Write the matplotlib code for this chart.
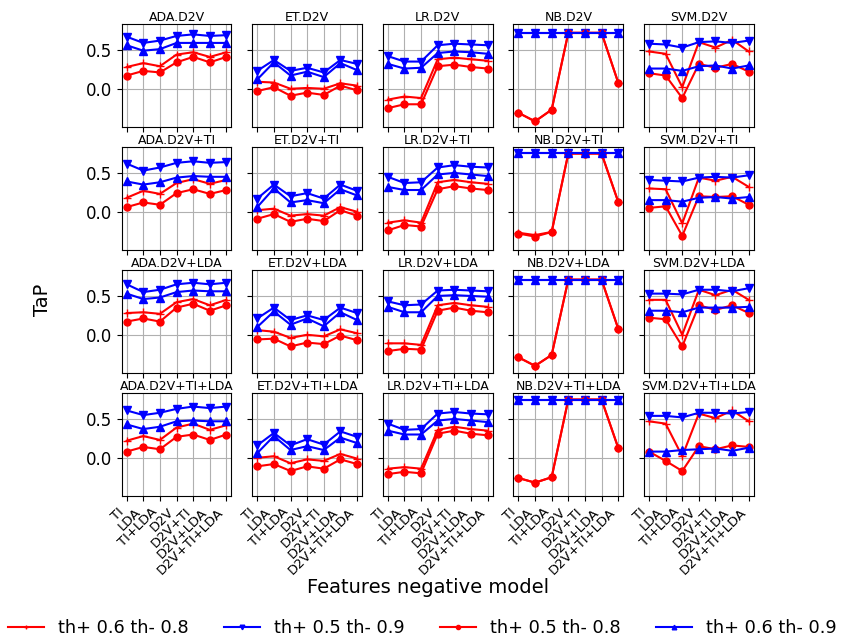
import matplotlib
matplotlib.use('Agg')
import matplotlib.pyplot as plt

# x axis: features of the negative model
features = ['TI', 'LDA', 'TI+LDA', 'D2V', 'D2V+TI', 'D2V+LDA', 'D2V+TI+LDA']
classifiers = ['ADA', 'ET', 'LR', 'NB', 'SVM']
feature_sets = ['D2V', 'D2V+TI', 'D2V+LDA', 'D2V+TI+LDA']

series_labels = ['th+ 0.6 th- 0.8', 'th+ 0.5 th- 0.9', 'th+ 0.5 th- 0.8', 'th+ 0.6 th- 0.9']
series_colors = ['red', 'blue', 'red', 'blue']
series_markers = ['+', 'v', 'o', '^']
series_msize = [6, 5.5, 5, 5.5]

# TaP per subplot, one row per series in the order of series_labels
ada_d2v = [[0.28, 0.33, 0.29, 0.44, 0.47, 0.41, 0.47],
           [0.67, 0.59, 0.62, 0.68, 0.70, 0.68, 0.69],
           [0.17, 0.23, 0.21, 0.34, 0.41, 0.34, 0.41],
           [0.56, 0.49, 0.51, 0.59, 0.59, 0.59, 0.59]]
et_d2v = [[0.09, 0.08, 0.00, 0.01, 0.00, 0.07, 0.04],
          [0.23, 0.37, 0.23, 0.27, 0.21, 0.37, 0.32],
          [-0.03, 0.02, -0.09, -0.05, -0.08, 0.04, -0.02],
          [0.12, 0.34, 0.17, 0.22, 0.15, 0.33, 0.24]]
lr_d2v = [[-0.14, -0.10, -0.12, 0.38, 0.40, 0.38, 0.36],
          [0.42, 0.35, 0.35, 0.56, 0.58, 0.57, 0.56],
          [-0.25, -0.20, -0.20, 0.29, 0.31, 0.28, 0.26],
          [0.32, 0.26, 0.27, 0.46, 0.48, 0.47, 0.45]]
nb_d2v = [[-0.31, -0.42, -0.27, 0.72, 0.72, 0.72, 0.08],
          [0.72, 0.72, 0.72, 0.72, 0.72, 0.72, 0.72],
          [-0.31, -0.42, -0.27, 0.72, 0.72, 0.72, 0.08],
          [0.72, 0.72, 0.72, 0.72, 0.72, 0.72, 0.72]]
svm_d2v = [[0.48, 0.45, 0.02, 0.60, 0.53, 0.63, 0.48],
           [0.58, 0.57, 0.53, 0.60, 0.61, 0.59, 0.62],
           [0.20, 0.17, -0.12, 0.32, 0.27, 0.32, 0.22],
           [0.26, 0.26, 0.23, 0.29, 0.30, 0.26, 0.30]]

ada_d2v_ti = [[0.18, 0.27, 0.23, 0.37, 0.42, 0.36, 0.41],
              [0.62, 0.53, 0.57, 0.63, 0.65, 0.63, 0.64],
              [0.06, 0.12, 0.09, 0.24, 0.29, 0.23, 0.28],
              [0.39, 0.35, 0.38, 0.44, 0.46, 0.45, 0.45]]
et_d2v_ti = [[0.02, 0.04, -0.05, -0.03, -0.05, 0.06, 0.00],
             [0.17, 0.35, 0.20, 0.24, 0.17, 0.35, 0.27],
             [-0.09, -0.03, -0.13, -0.09, -0.12, 0.02, -0.05],
             [0.06, 0.30, 0.12, 0.15, 0.11, 0.29, 0.21]]
lr_d2v_ti = [[-0.14, -0.11, -0.14, 0.38, 0.41, 0.38, 0.36],
             [0.45, 0.37, 0.38, 0.57, 0.60, 0.58, 0.57],
             [-0.24, -0.17, -0.19, 0.29, 0.33, 0.30, 0.28],
             [0.32, 0.28, 0.28, 0.48, 0.50, 0.48, 0.46]]
nb_d2v_ti = [[-0.27, -0.30, -0.26, 0.75, 0.75, 0.75, 0.13],
             [0.76, 0.76, 0.76, 0.76, 0.76, 0.76, 0.76],
             [-0.28, -0.32, -0.26, 0.75, 0.75, 0.75, 0.13],
             [0.76, 0.76, 0.76, 0.76, 0.76, 0.76, 0.76]]
svm_d2v_ti = [[0.30, 0.29, -0.15, 0.44, 0.40, 0.45, 0.32],
              [0.41, 0.40, 0.39, 0.44, 0.45, 0.44, 0.47],
              [0.05, 0.07, -0.31, 0.20, 0.19, 0.20, 0.09],
              [0.15, 0.15, 0.13, 0.18, 0.19, 0.17, 0.19]]

ada_d2v_lda = [[0.28, 0.29, 0.27, 0.42, 0.46, 0.38, 0.45],
               [0.65, 0.55, 0.58, 0.65, 0.67, 0.65, 0.67],
               [0.17, 0.21, 0.17, 0.35, 0.40, 0.31, 0.38],
               [0.53, 0.46, 0.48, 0.55, 0.57, 0.56, 0.56]]
et_d2v_lda = [[0.06, 0.04, -0.04, 0.00, -0.02, 0.07, 0.02],
              [0.21, 0.35, 0.19, 0.25, 0.19, 0.35, 0.28],
              [-0.06, -0.05, -0.15, -0.10, -0.12, -0.01, -0.07],
              [0.10, 0.30, 0.13, 0.21, 0.11, 0.29, 0.19]]
lr_d2v_lda = [[-0.11, -0.11, -0.13, 0.38, 0.41, 0.38, 0.36],
              [0.43, 0.38, 0.39, 0.57, 0.58, 0.57, 0.56],
              [-0.21, -0.18, -0.19, 0.31, 0.35, 0.31, 0.29],
              [0.36, 0.29, 0.29, 0.50, 0.51, 0.50, 0.49]]
nb_d2v_lda = [[-0.29, -0.40, -0.26, 0.71, 0.71, 0.71, 0.08],
              [0.71, 0.71, 0.71, 0.71, 0.71, 0.71, 0.71],
              [-0.29, -0.40, -0.26, 0.71, 0.71, 0.71, 0.08],
              [0.71, 0.71, 0.71, 0.71, 0.71, 0.71, 0.71]]
svm_d2v_lda = [[0.45, 0.45, 0.00, 0.58, 0.51, 0.58, 0.45],
               [0.53, 0.53, 0.52, 0.58, 0.58, 0.56, 0.60],
               [0.22, 0.20, -0.15, 0.38, 0.32, 0.38, 0.28],
               [0.31, 0.31, 0.29, 0.35, 0.35, 0.35, 0.36]]

ada_d2v_ti_lda = [[0.22, 0.28, 0.23, 0.39, 0.44, 0.36, 0.42],
                  [0.61, 0.55, 0.58, 0.63, 0.66, 0.64, 0.66],
                  [0.08, 0.14, 0.11, 0.27, 0.30, 0.23, 0.30],
                  [0.43, 0.37, 0.40, 0.47, 0.48, 0.47, 0.47]]
et_d2v_ti_lda = [[0.00, 0.02, -0.07, -0.02, -0.04, 0.05, -0.01],
                 [0.16, 0.32, 0.16, 0.24, 0.17, 0.34, 0.27],
                 [-0.11, -0.08, -0.17, -0.11, -0.14, -0.02, -0.08],
                 [0.06, 0.28, 0.10, 0.15, 0.10, 0.26, 0.19]]
lr_d2v_ti_lda = [[-0.14, -0.12, -0.14, 0.36, 0.40, 0.37, 0.35],
                 [0.44, 0.36, 0.37, 0.57, 0.59, 0.57, 0.56],
                 [-0.21, -0.18, -0.20, 0.31, 0.35, 0.31, 0.29],
                 [0.35, 0.30, 0.30, 0.48, 0.50, 0.48, 0.46]]
nb_d2v_ti_lda = [[-0.26, -0.32, -0.25, 0.75, 0.75, 0.75, 0.13],
                 [0.75, 0.75, 0.75, 0.75, 0.75, 0.75, 0.75],
                 [-0.26, -0.32, -0.25, 0.75, 0.75, 0.75, 0.13],
                 [0.75, 0.75, 0.75, 0.75, 0.75, 0.75, 0.75]]
svm_d2v_ti_lda = [[0.47, 0.44, 0.02, 0.57, 0.51, 0.61, 0.47],
                  [0.54, 0.54, 0.52, 0.58, 0.58, 0.57, 0.59],
                  [0.08, -0.04, -0.17, 0.15, 0.11, 0.16, 0.14],
                  [0.08, 0.08, 0.10, 0.11, 0.12, 0.09, 0.13]]

grid_data = [[ada_d2v, et_d2v, lr_d2v, nb_d2v, svm_d2v],
             [ada_d2v_ti, et_d2v_ti, lr_d2v_ti, nb_d2v_ti, svm_d2v_ti],
             [ada_d2v_lda, et_d2v_lda, lr_d2v_lda, nb_d2v_lda, svm_d2v_lda],
             [ada_d2v_ti_lda, et_d2v_ti_lda, lr_d2v_ti_lda, nb_d2v_ti_lda, svm_d2v_ti_lda]]


def plot_tap_grid(outputfilename='out.png'):
    fig, axes = plt.subplots(4, 5, sharex=True, sharey=True, figsize=(8.45, 6.39), dpi=100)
    fig.subplots_adjust(left=0.144, right=0.892, top=0.962, bottom=0.224,
                        wspace=0.19, hspace=0.2)
    x = range(len(features))

    for r, fs in enumerate(feature_sets):
        for c, clf in enumerate(classifiers):
            ax = axes[r, c]
            for vals, lab, col, mk, ms in zip(grid_data[r][c], series_labels, series_colors,
                                              series_markers, series_msize):
                ax.plot(x, vals, color=col, marker=mk, markersize=ms,
                        linewidth=1.5, label=lab)
            ax.set_title(clf + '.' + fs, fontsize=9, pad=2)
            ax.grid(True)
            ax.set_ylim(-0.49, 0.83)
            ax.set_yticks([0.0, 0.5])
            ax.tick_params(axis='y', labelsize=12)
            ax.set_xticks(list(x))
            ax.set_xticklabels(features)
            plt.setp(ax.get_xticklabels(), rotation=45, ha='right', fontsize=9.5)

    fig.text(0.05, 0.53, 'TaP', rotation=90, fontsize=14, ha='center', va='center')
    fig.text(0.506, 0.08, 'Features negative model', fontsize=14, ha='center', va='center')

    handles, labels = axes[0, 0].get_legend_handles_labels()
    fig.legend(handles, labels, loc='center', bbox_to_anchor=(0.5, 0.017), ncol=4,
               frameon=False, fontsize=12.8, markerscale=0.6)

    fig.savefig(outputfilename)


plot_tap_grid('out.png')
